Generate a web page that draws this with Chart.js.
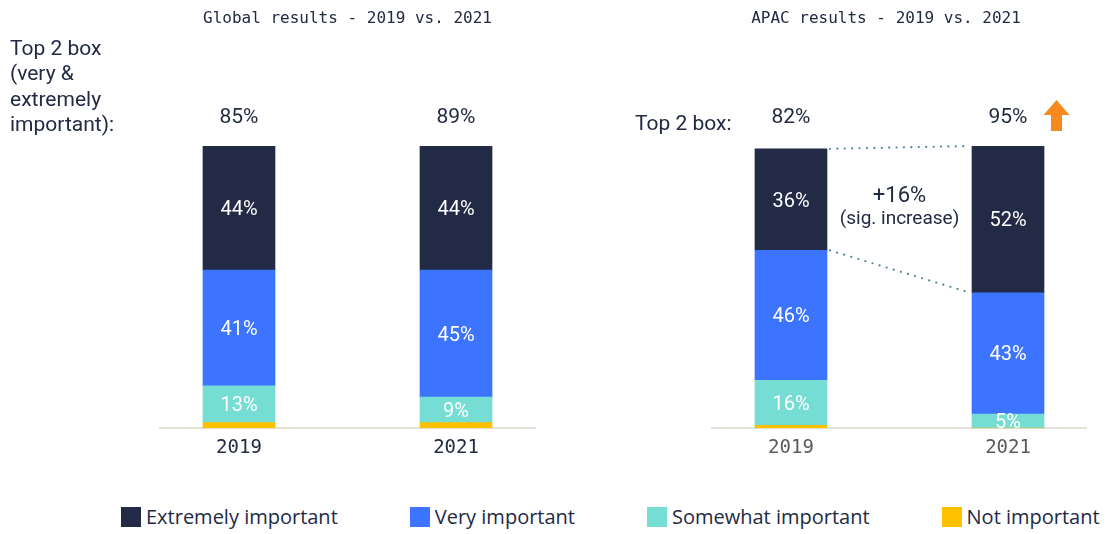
<!DOCTYPE html>
<html>
<head>
<meta charset="utf-8">
<script src="https://cdn.jsdelivr.net/npm/chart.js@4.4.1/dist/chart.umd.min.js"></script>
<style>
  html, body { margin: 0; padding: 0; background: #fff; }
  body { width: 1108px; height: 534px; position: relative; overflow: hidden; font-family: Roboto, sans-serif; color: #222a44; }
  canvas { position: absolute; top: 0; display: block; }
  #globalChart { left: 0; }
  #apacChart { left: 554px; }
  #legend { position: absolute; left: 121px; top: 507px; display: flex; gap: 72px; font-family: "Open Sans", sans-serif; font-size: 20px; line-height: 20px; white-space: nowrap; }
  .item { display: flex; align-items: center; }
  .swatch { display: inline-block; width: 20px; height: 20px; margin-right: 5px; }
</style>
</head>
<body>
<canvas id="globalChart" width="554" height="467"></canvas>
<canvas id="apacChart" width="533" height="467"></canvas>
<div id="legend"></div>
<script>
  // Categorias e séries
  const years = ["2019", "2021"];
  const levels = ["Extremely important", "Very important", "Somewhat important", "Not important"];
  const levelColors = ["#222a45", "#3c74ff", "#76ddd5", "#ffc000"];

  // Global
  const globalExtremely = [44, 44];
  const globalVery = [41, 45];
  const globalSomewhat = [13, 9];
  const globalNot = [2, 2];

  // APAC
  const apacExtremely = [36, 52];
  const apacVery = [46, 43];
  const apacSomewhat = [16, 5];
  const apacNot = [1, 0];

  const ink = "#222a44";
  const mono = "'DejaVu Sans Mono', monospace";
  Chart.defaults.font.family = "Roboto, sans-serif";
  Chart.defaults.color = ink;

  // Datasets empilhados de baixo para cima (Not -> Extremely)
  function buildDatasets(series) {
    return series
      .map((values, k) => ({
        label: levels[k],
        data: values.map((v, i) => ({ x: i, y: v })),
        backgroundColor: levelColors[k],
        barThickness: 72,
      }))
      .reverse();
  }

  // Rótulos brancos dentro dos segmentos
  const segmentLabels = {
    id: "segmentLabels",
    afterDatasetsDraw(chart) {
      const { ctx } = chart;
      ctx.save();
      ctx.font = "20px Roboto";
      ctx.fillStyle = "#ffffff";
      ctx.textAlign = "center";
      ctx.textBaseline = "middle";
      chart.data.datasets.forEach((ds, di) => {
        chart.getDatasetMeta(di).data.forEach((bar, i) => {
          const v = ds.data[i].y;
          if (v < 5) return;
          ctx.fillText(v + "%", bar.x, (bar.y + bar.base) / 2 + 2);
        });
      });
      ctx.restore();
    },
  };

  // "Top 2 box" acima das barras
  function topTwoBox(extremely, very, note, noteX, noteY) {
    return {
      id: "topTwoBox",
      afterDatasetsDraw(chart) {
        const { ctx, chartArea } = chart;
        ctx.save();
        ctx.fillStyle = ink;
        ctx.font = "21px Roboto";
        ctx.textAlign = "center";
        ctx.textBaseline = "alphabetic";
        chart.getDatasetMeta(0).data.forEach((bar, i) => {
          ctx.fillText(extremely[i] + very[i] + "%", bar.x, chartArea.top - 23);
        });
        ctx.textAlign = "left";
        note.forEach((line, k) => ctx.fillText(line, noteX, noteY + k * 25.3));
        ctx.restore();
      },
    };
  }

  // Linhas pontilhadas, +16% e seta (APAC)
  const apacChange = {
    id: "apacChange",
    afterDatasetsDraw(chart) {
      const { ctx, chartArea } = chart;
      const [a, b] = chart.getDatasetMeta(3).data;
      const half = a.width / 2;
      ctx.save();
      ctx.strokeStyle = "#4b8294";
      ctx.lineWidth = 2.2;
      ctx.lineCap = "round";
      ctx.setLineDash([0, 7.4]);
      ctx.beginPath();
      ctx.moveTo(a.x + half + 3, a.y);
      ctx.lineTo(b.x - half - 2, b.y);
      ctx.moveTo(a.x + half + 3, a.base);
      ctx.lineTo(b.x - half - 2, b.base);
      ctx.stroke();
      ctx.setLineDash([]);

      const midX = (a.x + b.x) / 2;
      ctx.fillStyle = ink;
      ctx.textAlign = "center";
      ctx.font = "22px Roboto";
      ctx.fillText("+" + (apacExtremely[1] - apacExtremely[0]) + "%", midX, chartArea.top + 56);
      ctx.font = "19px Roboto";
      ctx.fillText("(sig. increase)", midX, chartArea.top + 78);

      // seta laranja
      const cx = b.x + half + 12.5;
      const t = chartArea.top;
      ctx.fillStyle = "#f68a1f";
      ctx.beginPath();
      ctx.moveTo(cx, t - 46);
      ctx.lineTo(cx + 13, t - 31);
      ctx.lineTo(cx + 5.5, t - 31);
      ctx.lineTo(cx + 5.5, t - 15);
      ctx.lineTo(cx - 5.5, t - 15);
      ctx.lineTo(cx - 5.5, t - 31);
      ctx.lineTo(cx - 13, t - 31);
      ctx.closePath();
      ctx.fill();
      ctx.restore();
    },
  };

  function buildChart(canvasId, title, series, tickColor, padding, yWidth, plugins) {
    return new Chart(document.getElementById(canvasId), {
      type: "bar",
      data: { datasets: buildDatasets(series) },
      options: {
        responsive: false,
        animation: false,
        devicePixelRatio: 1,
        layout: { padding: padding },
        plugins: {
          legend: { display: false },
          tooltip: { enabled: false },
          title: {
            display: true,
            text: title,
            color: ink,
            font: { family: mono, size: 16, weight: "normal" },
            padding: { top: 9, bottom: 117.8 },
          },
        },
        scales: {
          x: {
            type: "linear",
            stacked: true,
            offset: false,
            min: -0.364,
            max: 1.364,
            grid: { display: false, drawTicks: false },
            border: { color: "#e3e3d9", width: 2 },
            afterBuildTicks: (scale) => {
              scale.ticks = years.map((y, i) => ({ value: i }));
            },
            ticks: {
              color: tickColor,
              font: { family: mono, size: 19 },
              padding: 8,
              maxRotation: 0,
              callback: (v) => years[v],
            },
          },
          y: {
            stacked: true,
            min: 0,
            max: 100,
            display: yWidth > 0,
            grid: { display: false },
            border: { display: false },
            ticks: { display: false },
            afterFit: (scale) => {
              scale.width = yWidth;
            },
          },
        },
      },
      plugins: plugins,
    });
  }

  // Gráfico global
  buildChart(
    "globalChart",
    "Global results - 2019 vs. 2021",
    [globalExtremely, globalVery, globalSomewhat, globalNot],
    ink,
    { left: 160, right: 19 },
    0,
    [segmentLabels, topTwoBox(globalExtremely, globalVery, ["Top 2 box", "(very &", "extremely", "important):"], 10, 55)]
  );

  // Gráfico APAC
  buildChart(
    "apacChart",
    "APAC results - 2019 vs. 2021",
    [apacExtremely, apacVery, apacSomewhat, apacNot],
    "#5a5a5a",
    { left: 131, right: 0 },
    27,
    [segmentLabels, topTwoBox(apacExtremely, apacVery, ["Top 2 box:"], 81, 130), apacChange]
  );

  // Legenda comum
  const legendEl = document.getElementById("legend");
  levels.forEach((name, k) => {
    const item = document.createElement("span");
    item.className = "item";
    item.innerHTML = '<i class="swatch" style="background:' + levelColors[k] + '"></i>' + name;
    legendEl.appendChild(item);
  });
</script>
</body>
</html>
